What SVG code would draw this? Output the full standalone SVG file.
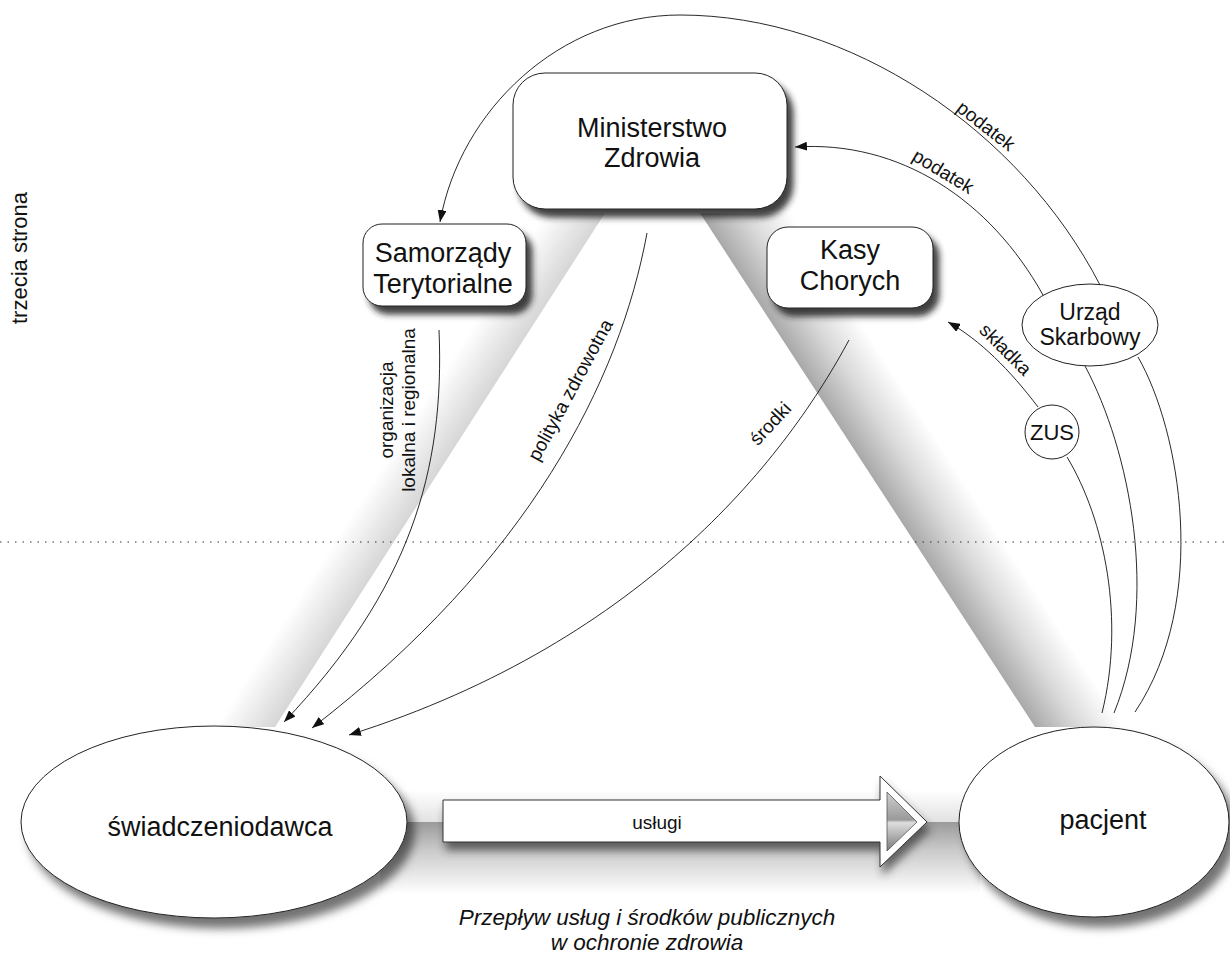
<svg xmlns="http://www.w3.org/2000/svg" width="1230" height="955" viewBox="0 0 1230 955">
<defs>
<style>
.t{font-family:"Liberation Sans",Arial,Helvetica,sans-serif;fill:#111}
.n26{font-size:27px;text-anchor:middle}
.lbl{font-size:19px;text-anchor:middle}
.node{fill:#fff;stroke:#222;stroke-width:1}
.c{fill:none;stroke:#111;stroke-width:0.9}
.arr{marker-end:url(#ah)}
</style>
<marker id="ah" viewBox="0 0 12 9" refX="12" refY="4.5" markerWidth="12" markerHeight="9" markerUnits="userSpaceOnUse" orient="auto"><path d="M0,0 L12,4.5 L0,9 z" fill="#111"/></marker>
<filter id="sh" x="-20%" y="-20%" width="150%" height="160%"><feDropShadow dx="6" dy="8" stdDeviation="3" flood-color="#222" flood-opacity="0.85"/></filter>
<filter id="she" x="-20%" y="-20%" width="150%" height="160%"><feDropShadow dx="7" dy="10" stdDeviation="5" flood-color="#000" flood-opacity="0.55"/></filter>
<filter id="sha" x="-10%" y="-30%" width="130%" height="180%"><feDropShadow dx="3" dy="8" stdDeviation="4" flood-color="#333" flood-opacity="0.7"/></filter>
<linearGradient id="gl" gradientUnits="userSpaceOnUse" x1="440" y1="470" x2="398" y2="443"><stop offset="0" stop-color="#d6d6d6"/><stop offset="1" stop-color="#fff"/></linearGradient>
<linearGradient id="gr" gradientUnits="userSpaceOnUse" x1="867" y1="470" x2="930" y2="429"><stop offset="0" stop-color="#a8a8a8"/><stop offset="0.5" stop-color="#dadada"/><stop offset="1" stop-color="#fff"/></linearGradient>
<linearGradient id="gb" x1="0" y1="0" x2="0" y2="1"><stop offset="0" stop-color="#9a9a9a"/><stop offset="0.4" stop-color="#cbcbcb"/><stop offset="1" stop-color="#fff"/></linearGradient>
<linearGradient id="gbu" x1="0" y1="0" x2="0" y2="1"><stop offset="0" stop-color="#fff"/><stop offset="1" stop-color="#e2e2e2"/></linearGradient>
<linearGradient id="gh" x1="0" y1="0" x2="0" y2="1"><stop offset="0" stop-color="#cfcfcf"/><stop offset="0.47" stop-color="#9a9a9a"/><stop offset="0.52" stop-color="#dedede"/><stop offset="1" stop-color="#7a7a7a"/></linearGradient>
</defs>

<g id="bands">
<polygon points="605,213 275,727 215,727 545,213" fill="url(#gl)"/>
<polygon points="700,213 1035,727 1125,727 790,213" fill="url(#gr)"/>
<rect x="380" y="790" width="600" height="32" fill="url(#gbu)"/>
<rect x="380" y="822" width="600" height="72" fill="url(#gb)"/>
</g>

<line x1="0" y1="542" x2="1230" y2="542" stroke="#333" stroke-width="1" stroke-dasharray="1.5 6"/>

<text class="t" font-size="22" text-anchor="middle" transform="translate(27,258) rotate(-90)">trzecia strona</text>

<g id="connectors">
<path class="c arr" d="M1100,285 C1020,130 850,15 680,15 C560,15 460,110 440,222"/>
<path class="c arr" d="M1043,295 C990,200 900,140 795,147"/>
<path class="c arr" d="M1038,407 C1010,370 980,340 948,322"/>
<path class="c" d="M1067,457 C1105,520 1125,620 1102,713"/>
<path class="c" d="M1085,366 C1130,450 1160,600 1114,713"/>
<path class="c" d="M1138,357 C1180,430 1210,600 1135,712"/>
<path class="c arr" d="M439,330 C445,470 410,590 284,722"/>
<path class="c arr" d="M647,233 C620,380 530,560 312,728"/>
<path class="c arr" d="M849,340 C790,450 650,640 349,735"/>
<text class="t lbl" transform="translate(982,131) rotate(38)">podatek</text>
<text class="t lbl" transform="translate(940,177) rotate(31)">podatek</text>
<text class="t lbl" transform="translate(1001,354) rotate(45)">składka</text>
<text class="t lbl" transform="translate(393,410) rotate(-90)">organizacja</text>
<text class="t lbl" transform="translate(415,410) rotate(-90)">lokalna i regionalna</text>
<text class="t lbl" transform="translate(576,393) rotate(-61.6)">polityka zdrowotna</text>
<text class="t lbl" transform="translate(775,428) rotate(-47)">środki</text>
</g>

<g id="ministerstwo">
<rect class="node" x="513" y="73" width="274" height="136" rx="32" filter="url(#sh)"/>
<text class="t n26" x="652" y="137">Ministerstwo</text>
<text class="t n26" x="652" y="167">Zdrowia</text>
</g>

<g id="samorzady">
<rect class="node" x="363" y="224" width="163" height="82" rx="19" filter="url(#sh)"/>
<text class="t n26" x="443" y="262">Samorządy</text>
<text class="t n26" x="443" y="293">Terytorialne</text>
</g>

<g id="kasy">
<rect class="node" x="767" y="227" width="166" height="81" rx="21" filter="url(#sh)"/>
<text class="t n26" x="850" y="259">Kasy</text>
<text class="t n26" x="850" y="290">Chorych</text>
</g>

<g id="urzad">
<ellipse class="node" cx="1090" cy="325" rx="68" ry="41"/>
<text class="t" font-size="23" text-anchor="middle" x="1090" y="320">Urząd</text>
<text class="t" font-size="23" text-anchor="middle" x="1090" y="345">Skarbowy</text>
</g>

<g id="zus">
<circle class="node" cx="1052" cy="432" r="27"/>
<text class="t" font-size="22" text-anchor="middle" x="1052" y="440">ZUS</text>
</g>

<g id="swiadczeniodawca">
<ellipse class="node" cx="214" cy="822" rx="193" ry="96" filter="url(#she)"/>
<text class="t n26" x="220" y="836">świadczeniodawca</text>
</g>

<g id="pacjent">
<ellipse class="node" cx="1094" cy="822" rx="135" ry="95" filter="url(#she)"/>
<text class="t n26" x="1103" y="829">pacjent</text>
</g>

<g id="uslugi">
<polygon points="443,800 880,800 880,776 927,822 880,867 880,842 443,842" fill="#fff" stroke="#333" stroke-width="1" filter="url(#sha)"/>
<polygon points="887,792 917,822 887,851" fill="url(#gh)" stroke="#555" stroke-width="0.8"/>
<text class="t" font-size="19" text-anchor="middle" x="657" y="829">usługi</text>
</g>

<g id="caption">
<text class="t" font-size="22.5" font-style="italic" text-anchor="middle" x="647" y="925">Przepływ usług i środków publicznych</text>
<text class="t" font-size="22.5" font-style="italic" text-anchor="middle" x="647" y="950">w ochronie zdrowia</text>
</g>
</svg>
